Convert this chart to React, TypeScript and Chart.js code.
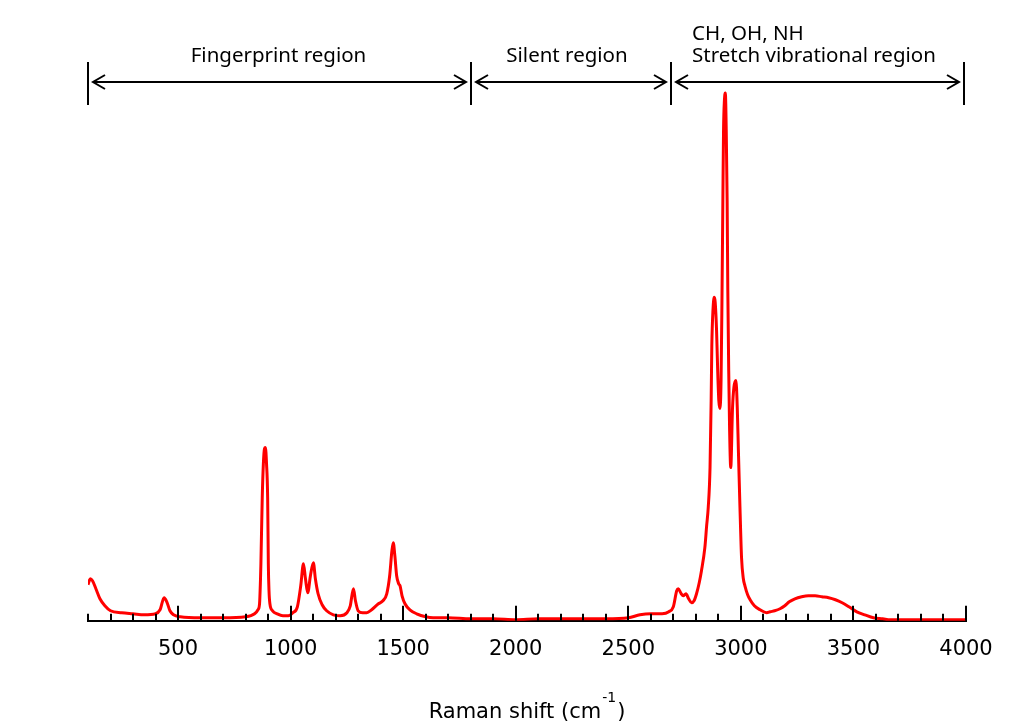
import React, { useEffect, useRef } from "react";
import { Chart, registerables } from "chart.js";

Chart.register(...registerables);

// Raman shift (cm^-1)
const ramanShift = [
  100, 110, 120, 135, 153, 175, 200, 250, 300, 350, 400, 420, 438, 450, 464, 480, 510, 600, 700, 800,
  840, 855, 862, 866, 868, 874, 879, 884, 888, 893, 898, 901, 904, 908, 920, 940, 966, 990, 1010, 1030,
  1045, 1057, 1066, 1076, 1088, 1101, 1110, 1122, 1140, 1160, 1190, 1220, 1250, 1265, 1279, 1288, 1300, 1320, 1338, 1360,
  1390, 1410, 1427, 1440, 1450, 1456, 1463, 1471, 1480, 1486, 1495, 1508, 1530, 1560, 1600, 1633, 1700, 1800, 1900, 2000,
  2100, 2200, 2300, 2400, 2500, 2552, 2600, 2650, 2680, 2700, 2715, 2722, 2735, 2744, 2756, 2768, 2781, 2792, 2803, 2815,
  2825, 2840, 2848, 2855, 2863, 2868, 2871, 2876, 2882, 2886, 2892, 2897, 2902, 2907, 2912, 2916, 2920, 2923, 2927, 2931,
  2935, 2939, 2942, 2946, 2950, 2955, 2963, 2969, 2978, 2984, 2989, 2996, 3003, 3011, 3018, 3030, 3041, 3060, 3085, 3115,
  3130, 3150, 3174, 3195, 3215, 3240, 3270, 3300, 3330, 3360, 3390, 3420, 3450, 3480, 3515, 3550, 3589, 3630, 3663, 3700,
  3800, 3900, 4000,
];

// Intensity (a.u.)
const intensity = [
  36, 42, 40, 32, 22, 15, 10, 8, 7, 6, 7, 11, 23, 19, 10, 6, 4, 3, 3, 4,
  7, 11, 17, 40, 57, 123, 157, 172, 173, 157, 123, 57, 30, 17, 10, 7, 5, 5, 8, 14,
  35, 57, 42, 28, 45, 58, 42, 27, 16, 10, 6, 5, 8, 15, 32, 20, 10, 8, 8, 11,
  17, 20, 27, 45, 70, 78, 65, 45, 37, 35, 25, 17, 11, 7, 4, 3, 3, 2, 2, 1,
  2, 2, 2, 2, 3, 6, 7, 7, 9, 14, 30, 32, 27, 25, 27, 22, 18, 20, 27, 38,
  50, 73, 95, 113, 153, 220, 275, 310, 323, 318, 290, 250, 220, 212, 240, 320, 420, 490, 520, 527,
  490, 420, 330, 250, 190, 153, 213, 233, 240, 213, 170, 113, 63, 42, 35, 26, 21, 15, 11, 8,
  9, 10, 12, 15, 19, 22, 24, 25, 25, 24, 23, 21, 18, 14, 9, 6, 3, 2, 1, 1,
  1, 1, 1,
];

const majorTickValues = [500, 1000, 1500, 2000, 2500, 3000, 3500, 4000];
const regionBounds = [100, 1800, 2690, 3990];
const regionLabels = [["Fingerprint region"], ["Silent region"], ["CH, OH, NH", "Stretch vibrational region"]];
const xTitleMain = "Raman shift (cm";
const xTitleSup = "-1";
const xTitleEnd = ")";

const labelFont = "'Noto Sans', 'DejaVu Sans', sans-serif";
const axisFont = "'DejaVu Sans', Verdana, sans-serif";

const annotationPlugin = {
  id: "ramanAnnotations",
  afterDraw(chart: any) {
    const { ctx, chartArea, scales } = chart;
    const xs = scales.x;
    ctx.save();
    ctx.strokeStyle = "#000";
    ctx.fillStyle = "#000";
    ctx.lineWidth = 2;

    // inward tick marks
    xs.ticks.forEach((t: any) => {
      const px = Math.round(xs.getPixelForValue(t.value));
      const len = majorTickValues.includes(t.value) ? 15 : 7;
      ctx.beginPath();
      ctx.moveTo(px, chartArea.bottom);
      ctx.lineTo(px, chartArea.bottom - len);
      ctx.stroke();
    });

    // region brackets
    const top = chartArea.top;
    const barTop = top + 42;
    const barBot = top + 85;
    const arrowY = top + 62;
    const bx = regionBounds.map((v) => Math.round(xs.getPixelForValue(v)));
    bx.forEach((x) => {
      ctx.beginPath();
      ctx.moveTo(x, barTop);
      ctx.lineTo(x, barBot);
      ctx.stroke();
    });
    for (let i = 0; i < bx.length - 1; i++) {
      const x1 = bx[i] + 5;
      const x2 = bx[i + 1] - 5;
      ctx.beginPath();
      ctx.moveTo(x1, arrowY);
      ctx.lineTo(x2, arrowY);
      ctx.moveTo(x1 + 12, arrowY - 7);
      ctx.lineTo(x1, arrowY);
      ctx.lineTo(x1 + 12, arrowY + 7);
      ctx.moveTo(x2 - 12, arrowY - 7);
      ctx.lineTo(x2, arrowY);
      ctx.lineTo(x2 - 12, arrowY + 7);
      ctx.stroke();
    }

    // region labels
    ctx.font = `20.5px ${labelFont}`;
    ctx.textBaseline = "alphabetic";
    ctx.textAlign = "center";
    ctx.fillText(regionLabels[0][0], (bx[0] + bx[1]) / 2 - 1, top + 42);
    ctx.fillText(regionLabels[1][0], (bx[1] + bx[2]) / 2 - 4, top + 42);
    ctx.textAlign = "left";
    ctx.fillText(regionLabels[2][0], bx[2] + 21, top + 20);
    ctx.fillText(regionLabels[2][1], bx[2] + 21, top + 42);

    // x axis title with superscript
    const mainFont = `21px ${axisFont}`;
    const supFont = `14px ${axisFont}`;
    ctx.font = mainFont;
    const w1 = ctx.measureText(xTitleMain).width;
    const w3 = ctx.measureText(xTitleEnd).width;
    ctx.font = supFont;
    const w2 = ctx.measureText(xTitleSup).width;
    const total = w1 + w2 + 2 + w3;
    const cx = (chartArea.left + chartArea.right) / 2;
    let x = cx - total / 2;
    const baseY = 718;
    ctx.textAlign = "left";
    ctx.font = mainFont;
    ctx.fillText(xTitleMain, x, baseY);
    x += w1 + 1;
    ctx.font = supFont;
    ctx.fillText(xTitleSup, x, baseY - 16);
    x += w2 + 1;
    ctx.font = mainFont;
    ctx.fillText(xTitleEnd, x, baseY);
    ctx.restore();
  },
};

export default function App() {
  const canvasRef = useRef<HTMLCanvasElement | null>(null);

  useEffect(() => {
    if (!canvasRef.current) return;
    const points = ramanShift.map((x, i) => ({ x, y: intensity[i] }));
    const chart = new Chart(canvasRef.current, {
      type: "line",
      data: {
        datasets: [
          {
            label: "Raman spectrum",
            data: points,
            borderColor: "#ff0000",
            borderWidth: 3,
            pointRadius: 0,
            fill: false,
            cubicInterpolationMode: "monotone",
          },
        ],
      },
      options: {
        responsive: false,
        animation: false,
        layout: { padding: { top: 20, left: 88, right: 58, bottom: 45 } },
        plugins: { legend: { display: false }, tooltip: { enabled: false }, title: { display: false } },
        scales: {
          x: {
            type: "linear",
            min: 100,
            max: 4000,
            grid: { display: false, drawTicks: false },
            border: { display: true, color: "#000", width: 2 },
            ticks: {
              stepSize: 100,
              autoSkip: false,
              maxRotation: 0,
              padding: 16,
              color: "#000",
              font: { family: axisFont, size: 21 },
              callback: (v: any) => (majorTickValues.includes(Number(v)) ? String(v) : ""),
            },
          },
          y: {
            display: false,
            min: 0,
            max: 600,
          },
        },
      },
      plugins: [annotationPlugin],
    });
    return () => chart.destroy();
  }, []);

  return (
    <div style={{ position: "absolute", left: 0, top: 0, width: 1024, height: 723, background: "#fff" }}>
      <canvas ref={canvasRef} width={1024} height={723} style={{ display: "block" }} />
    </div>
  );
}
